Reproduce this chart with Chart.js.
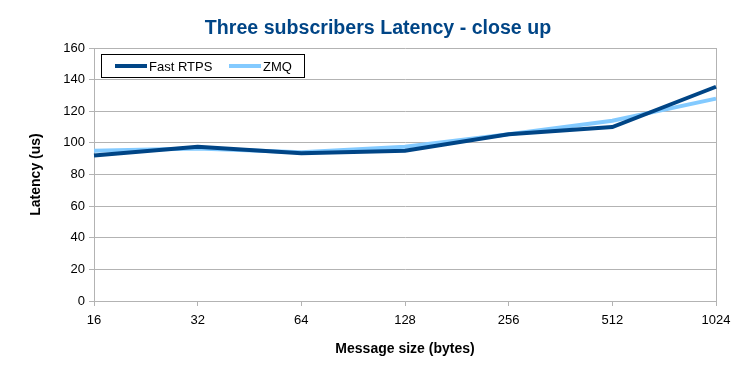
<!DOCTYPE html>
<html>
<head>
<meta charset="utf-8">
<script src="https://cdn.jsdelivr.net/npm/chart.js@4"></script>
<style>
  html, body { margin: 0; padding: 0; background: #fff; }
  #wrap { width: 756px; height: 378px; }
</style>
</head>
<body>
<div id="wrap"><canvas id="latencyChart" width="756" height="378"></canvas></div>
<script>
// Message sizes along the x axis
const sizes = ["16", "32", "64", "128", "256", "512", "1024"];

// Latency in microseconds
const fastRtps = [92, 97.5, 93.5, 95, 105.5, 110, 135.5];
const zmq = [95, 96.5, 94, 97.5, 105.5, 114, 128];

const seriesNames = ["Fast RTPS", "ZMQ"];
const seriesColors = ["#004586", "#83caff"];
const chartTitle = "Three subscribers Latency - close up";

const gridGray = "#b3b3b3";

// Title centred on the whole canvas, legend box inside the plot area
const decorations = {
    id: "decorations",
    afterDraw(chart) {
        const ctx = chart.ctx;
        const area = chart.chartArea;
        ctx.save();

        ctx.fillStyle = "#004586";
        ctx.font = "bold 19.6px 'Liberation Sans', Arial, sans-serif";
        ctx.textAlign = "center";
        ctx.textBaseline = "alphabetic";
        ctx.fillText(chartTitle, chart.width / 2, 34);

        const x0 = area.left + 7, y0 = area.top + 6;
        ctx.fillStyle = "#fff";
        ctx.fillRect(x0, y0, 203, 23);
        ctx.strokeStyle = "#000";
        ctx.lineWidth = 1;
        ctx.strokeRect(x0 + 0.5, y0 + 0.5, 203, 23);
        ctx.font = "13px 'Liberation Sans', Arial, sans-serif";
        ctx.textAlign = "left";
        ctx.textBaseline = "middle";
        const offsets = [14, 128];
        chart.data.datasets.forEach(function(ds, i) {
            const lx = x0 + offsets[i];
            const ly = y0 + 12;
            ctx.strokeStyle = ds.borderColor;
            ctx.lineWidth = 4;
            ctx.beginPath();
            ctx.moveTo(lx, ly);
            ctx.lineTo(lx + 32, ly);
            ctx.stroke();
            ctx.fillStyle = "#000";
            ctx.fillText(ds.label, lx + 34, ly + 1);
        });
        ctx.restore();
    }
};

const ctx = document.getElementById("latencyChart").getContext("2d");

new Chart(ctx, {
    type: "line",
    data: {
        labels: sizes,
        datasets: [
            {
                label: seriesNames[0],
                data: fastRtps,
                borderColor: seriesColors[0],
                backgroundColor: seriesColors[0],
                borderWidth: 4,
                pointRadius: 0,
                tension: 0
            },
            {
                label: seriesNames[1],
                data: zmq,
                borderColor: seriesColors[1],
                backgroundColor: seriesColors[1],
                borderWidth: 4,
                pointRadius: 0,
                tension: 0
            }
        ]
    },
    options: {
        responsive: false,
        animation: false,
        layout: { padding: { left: 0, right: 40, top: 48, bottom: 0 } },
        plugins: {
            legend: { display: false },
            tooltip: { enabled: false },
            title: { display: false }
        },
        scales: {
            x: {
                offset: false,
                afterFit(scale) { scale.height = 77; },
                ticks: {
                    color: "#000",
                    font: { family: "'Liberation Sans', Arial, sans-serif", size: 13 },
                    maxRotation: 0,
                    padding: 7
                },
                grid: {
                    color: function(c) { return c.index === sizes.length - 1 ? gridGray : "rgba(0,0,0,0)"; },
                    tickColor: gridGray,
                    tickLength: 5
                },
                border: { color: gridGray },
                title: {
                    display: true,
                    text: "Message size (bytes)",
                    color: "#000",
                    font: { family: "'Liberation Sans', Arial, sans-serif", size: 14, weight: "bold" },
                    padding: { top: 0, bottom: 20 }
                }
            },
            y: {
                min: 0,
                max: 160,
                afterFit(scale) { scale.width = 94; },
                ticks: {
                    stepSize: 20,
                    color: "#000",
                    font: { family: "'Liberation Sans', Arial, sans-serif", size: 13 },
                    padding: 4
                },
                grid: {
                    color: gridGray,
                    tickLength: 5
                },
                border: { color: gridGray },
                title: {
                    display: true,
                    text: "Latency (us)",
                    color: "#000",
                    font: { family: "'Liberation Sans', Arial, sans-serif", size: 14, weight: "bold" },
                    padding: { top: 28, bottom: 0 }
                }
            }
        }
    },
    plugins: [decorations]
});
</script>
</body>
</html>
